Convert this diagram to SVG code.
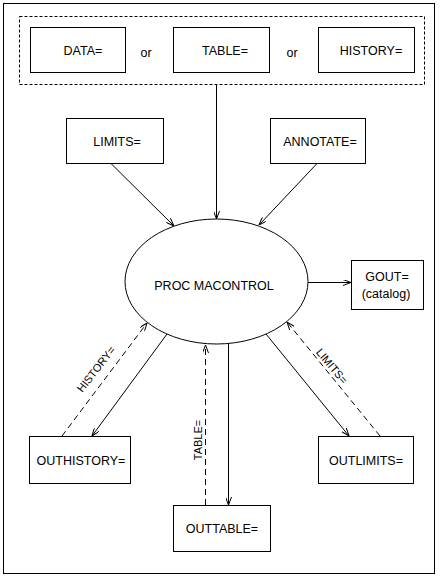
<svg xmlns="http://www.w3.org/2000/svg" width="440" height="578" viewBox="0 0 440 578">
<style>
text{font-family:"Liberation Sans",Arial,sans-serif;font-size:12.5px;fill:#000;text-anchor:middle}
.box{fill:#fff;stroke:#000;stroke-width:1}
.lbl{font-size:11px}
.c{fill:none;stroke:#000;stroke-width:1}
.d{stroke-dasharray:6,4}
</style>
<defs>
<marker id="ah" viewBox="0 0 8 6" refX="8" refY="3" markerWidth="8" markerHeight="6" markerUnits="userSpaceOnUse" orient="auto">
<path d="M0,0 L8,3 L0,6" fill="none" stroke="#000" stroke-width="1"/>
</marker>
</defs>
<rect x="0" y="0" width="440" height="578" fill="#fff"/>
<rect x="3.5" y="3.5" width="431" height="570" fill="none" stroke="#000" stroke-width="1"/>
<g id="inputs">
<rect x="19.5" y="16.5" width="405" height="68" fill="none" stroke="#000" stroke-width="1" stroke-dasharray="3,2"/>
<text x="146" y="57">or</text>
<text x="292" y="57">or</text>
</g>
<g id="data"><rect class="box" x="30.5" y="27.5" width="95" height="45"/><text x="83" y="55">DATA=</text></g>
<g id="table"><rect class="box" x="173.5" y="27.5" width="96" height="45"/><text x="225" y="55">TABLE=</text></g>
<g id="history"><rect class="box" x="318.5" y="27.5" width="96" height="45"/><text x="371" y="55">HISTORY=</text></g>
<g id="limits"><rect class="box" x="66.5" y="118.5" width="97" height="45"/><text x="117" y="146">LIMITS=</text></g>
<g id="annotate"><rect class="box" x="270.5" y="118.5" width="95" height="45"/><text x="320" y="146">ANNOTATE=</text></g>
<g id="proc"><ellipse cx="216.5" cy="281.5" rx="91.5" ry="62.5" fill="#fff" stroke="#000" stroke-width="1"/><text x="214" y="290">PROC MACONTROL</text></g>
<g id="gout"><rect class="box" x="351.5" y="260.5" width="72" height="49"/><text x="387" y="281">GOUT=</text><text x="386" y="298">(catalog)</text></g>
<g id="outhistory"><rect class="box" x="29.5" y="436.5" width="101" height="47"/><text x="81" y="465">OUTHISTORY=</text></g>
<g id="outtable"><rect class="box" x="173.5" y="505.5" width="97" height="46"/><text x="222" y="533">OUTTABLE=</text></g>
<g id="outlimits"><rect class="box" x="318.5" y="436.5" width="95" height="47"/><text x="366" y="465">OUTLIMITS=</text></g>
<g id="connectors">
<line class="c" x1="216.5" y1="84.5" x2="216.5" y2="219" marker-end="url(#ah)"/>
<line class="c" x1="111" y1="163.5" x2="174" y2="226" marker-end="url(#ah)"/>
<line class="c" x1="317" y1="163.5" x2="259" y2="225" marker-end="url(#ah)"/>
<line class="c" x1="308" y1="282.5" x2="351" y2="282.5" marker-end="url(#ah)"/>
<line class="c" x1="167" y1="334" x2="92" y2="436" marker-end="url(#ah)"/>
<line class="c d" x1="62" y1="436" x2="147" y2="323" marker-end="url(#ah)"/>
<line class="c d" x1="205.5" y1="505" x2="205.5" y2="345" marker-end="url(#ah)"/>
<line class="c" x1="228.5" y1="344" x2="228.5" y2="505" marker-end="url(#ah)"/>
<line class="c" x1="266" y1="334" x2="349" y2="436" marker-end="url(#ah)"/>
<line class="c d" x1="380" y1="436" x2="287" y2="322" marker-end="url(#ah)"/>
<text class="lbl" transform="translate(96,369) rotate(-52)" y="4">HISTORY=</text>
<text class="lbl" transform="translate(202,440) rotate(-90)">TABLE=</text>
<text class="lbl" transform="translate(332,366) rotate(50)" y="4">LIMITS=</text>
</g>
</svg>
